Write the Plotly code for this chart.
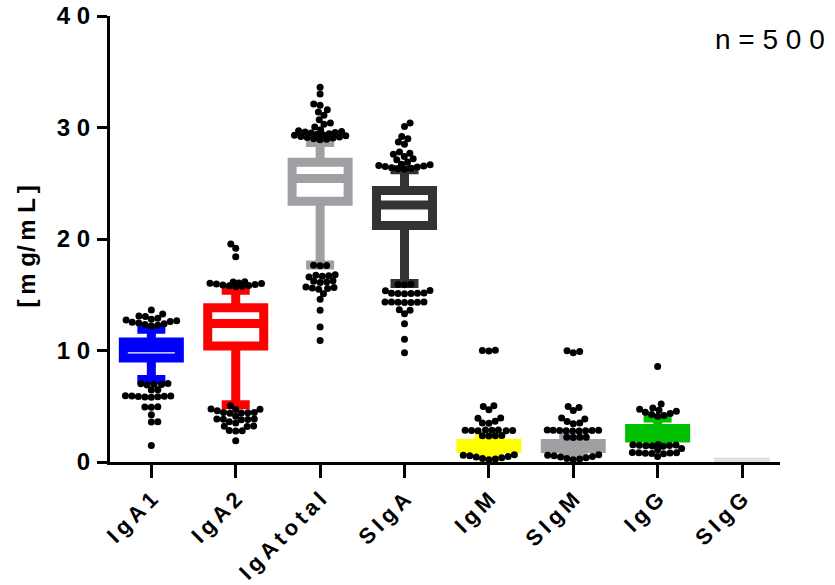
import math
import plotly.graph_objects as go

# ---------------- data ----------------
categories = ["IgA1", "IgA2", "IgA total", "SIgA", "IgM", "SIgM", "IgG", "SIgG"]
colors = ["#0000ff", "#ff0000", "#a0a0a4", "#333333", "#ffff00", "#a0a0a4", "#00c000", "#e0e0e0"]

q1 = [9.32, 10.40, 23.39, 21.21, 1.21, 1.21, 2.16, 0.0]
median = [10.25, 12.43, 25.42, 23.05, 1.45, 1.45, 2.60, 0.0]
q3 = [10.76, 13.84, 26.88, 24.34, 1.66, 1.66, 3.00, 0.0]
whisker_low = [7.40, 5.13, 17.67, 16.01, 0.75, 0.75, 1.65, 0.0]
whisker_high = [11.91, 15.40, 28.65, 26.20, 2.20, 2.20, 3.95, 0.0]

out_IgA1 = [13.64, 13.28, 13.1, 13.04, 12.9,
            12.2, 12.27, 12.33, 12.4, 12.47, 12.53, 12.6, 12.67, 12.73, 12.8,
            7.05, 7.02, 6.98, 6.95, 6.9, 6.47, 6.45,
            5.95, 5.93, 5.91, 5.89, 5.87, 5.85, 5.83, 5.81,
            4.93, 4.9, 4.95, 4.24, 3.6, 3.58, 1.49]
out_IgA2 = [19.55, 19.17, 18.41, 16.17, 16.15,
            15.72, 15.76, 15.8, 15.84, 15.88, 15.92, 15.96, 16.0, 16.03, 16.05,
            5.04, 4.75, 4.73, 4.7, 4.6, 4.45, 4.44, 4.42, 4.4, 4.38, 4.1, 3.86, 3.85, 3.83, 3.82,
            3.8, 3.6, 3.5, 3.22, 3.2, 3.18, 2.82, 2.8, 2.78, 1.91]
out_IgAtotal = [33.6, 33.0, 32.1, 32.0, 31.6, 31.4, 31.1, 30.7, 30.4, 30.3, 30.05, 29.8,
                29.7, 29.65, 29.6, 29.55, 29.5, 29.45, 29.4, 29.35, 29.3, 29.25, 29.2, 29.15,
                29.1, 29.05, 29.0, 28.95, 28.9,
                17.6, 17.62, 17.64, 16.8, 16.75, 16.7, 16.65, 16.6, 16.25, 16.2, 16.15, 16.1,
                15.7, 15.65, 15.6, 15.55, 15.5, 15.1, 14.6, 13.6, 12.1, 10.9]
out_SIgA = [30.4, 30.1, 29.2, 29.0, 28.7, 28.5, 27.8, 27.7, 27.6, 27.4, 27.2, 27.1, 26.9,
            26.7, 26.65, 26.6, 26.55, 26.5, 26.45, 26.4, 26.35, 26.3, 26.26,
            15.9, 15.92, 15.94, 15.35, 15.37, 15.1, 15.11, 15.12, 15.13, 15.14, 15.15,
            14.3, 14.31, 14.32, 14.33, 14.34, 14.35, 14.36, 13.65, 13.6, 13.3, 12.4, 11.0, 9.8]
out_IgM = [10.02, 10.0, 9.96, 5.05, 4.98, 4.68, 3.95, 3.93, 3.65, 3.5, 3.48,
           2.8, 2.81, 2.82, 2.83, 2.84, 2.85, 2.86, 2.87,
           2.34, 2.35, 2.36, 2.37,
           0.2, 0.26, 0.32, 0.38, 0.44, 0.5, 0.55, 0.6, 0.65]
out_SIgM = [9.97, 9.9, 9.8, 4.98, 4.89, 4.62, 3.94, 3.85, 3.64, 3.49, 3.43,
            2.78, 2.79, 2.8, 2.81, 2.82, 2.83, 2.84, 2.85, 2.86,
            2.2, 2.21, 2.22, 2.23,
            0.2, 0.26, 0.32, 0.38, 0.44, 0.5, 0.55, 0.6, 0.65]
out_IgG = [8.56, 5.2,
           4.08, 4.17, 4.27, 4.36, 4.46, 4.55, 4.65, 4.74, 4.84,
           1.42, 1.44, 1.46, 1.48, 1.5, 1.52, 1.54, 1.56,
           1.1, 1.2,
           0.74, 0.76, 0.78, 0.8, 0.82, 0.84, 0.86, 0.5]
out_SIgG = []
outliers = [out_IgA1, out_IgA2, out_IgAtotal, out_SIgA, out_IgM, out_SIgM, out_IgG, out_SIgG]

y_ticks = [0, 10, 20, 30, 40]
y_title = "[\u2009m g/\u2009m L\u2009]"
n_label = "n=500"

# ---------------- layout constants ----------------
W, H = 835, 585
ML, MR, MT, MB = 110, 55, 16, 123
XR = [-0.49, 7.45]
YR = [0, 40]
ppx = (W - ML - MR) / (XR[1] - XR[0])
ppy = (H - MT - MB) / (YR[1] - YR[0])
DOT = 7
SEP = 6.5
CAP = 26.0
BOXW_PX = 56


def spaced(s, sep=" "):
    return sep.join(ch for ch in s if ch != " ")


def swarm(values):
    """Beeswarm (px offsets), ascending placement, limited half-width with overlap fill."""
    order = sorted(range(len(values)), key=lambda k: values[k])
    placed = []
    offs = [0.0] * len(values)
    flip = False

    def mind(c, y):
        if not placed:
            return 1e9
        return min(math.hypot(c - xj, y - yj) for (xj, yj) in placed)

    for k in order:
        y = values[k] * ppy
        cands = [0.0]
        for (xj, yj) in placed:
            dy = y - yj
            if abs(dy) < SEP:
                dx = math.sqrt(SEP * SEP - dy * dy)
                cands += [xj + dx, xj - dx]
        good = [c for c in cands if abs(c) <= CAP + 1e-6 and mind(c, y) >= SEP - 1e-6]
        if good:
            good.sort(key=lambda c: (round(abs(c), 4), c if flip else -c))
            c = good[0]
        else:
            grid = [CAP * (g / 52.0) for g in range(-52, 53)]
            grid.sort(key=lambda c: (-round(mind(c, y), 3), abs(c), c if flip else -c))
            c = grid[0]
        if abs(c) > 1e-6:
            flip = not flip
        placed.append((c, y))
        offs[k] = c
    return offs


fig = go.Figure()

for i, cat in enumerate(categories):
    fig.add_trace(go.Box(
        x=[i], q1=[q1[i]], median=[median[i]], q3=[q3[i]],
        lowerfence=[whisker_low[i]], upperfence=[whisker_high[i]],
        width=BOXW_PX / ppx, whiskerwidth=0.5,
        fillcolor="white", line=dict(color=colors[i], width=9),
        boxpoints=False, name=cat, showlegend=False, hoverinfo="skip",
    ))

for i, vals in enumerate(outliers):
    if not vals:
        continue
    offs = swarm(vals)
    fig.add_trace(go.Scatter(
        x=[i + o / ppx for o in offs], y=vals, mode="markers",
        marker=dict(color="black", size=DOT, line=dict(width=0)),
        showlegend=False, hoverinfo="skip", cliponaxis=False,
    ))

FAM = "Arial, Liberation Sans, sans-serif"
font_bold = dict(family=FAM, color="black", weight="bold")

fig.update_layout(
    width=W, height=H,
    margin=dict(l=ML, r=MR, t=MT, b=MB),
    plot_bgcolor="white", paper_bgcolor="white",
    showlegend=False,
    xaxis=dict(
        range=XR, tickmode="array", tickvals=list(range(len(categories))),
        ticktext=[spaced(c, "\u2009") for c in categories], tickangle=-45,
        ticks="outside", ticklen=13, tickwidth=3, tickcolor="black",
        showline=True, linewidth=3, linecolor="black", showgrid=False, zeroline=False,
        tickfont=dict(size=22, **font_bold), automargin=False,
    ),
    yaxis=dict(
        range=YR, tickmode="array", tickvals=y_ticks, ticktext=[spaced(str(t)) for t in y_ticks],
        ticks="outside", ticklen=10, tickwidth=3, tickcolor="black",
        showline=True, linewidth=3, linecolor="black", showgrid=False, zeroline=False,
        tickfont=dict(size=24, **font_bold), automargin=False, ticklabelstandoff=2,
    ),
    annotations=[
        dict(text=spaced(n_label), xref="paper", yref="paper", x=1, xshift=827 - (W - MR),
             y=0.948, xanchor="right", yanchor="middle", showarrow=False,
             font=dict(family=FAM, size=28, color="black")),
        dict(text=y_title, xref="paper", yref="paper", x=0, xshift=27 - ML, y=0.483,
             xanchor="center", yanchor="middle", textangle=-90, showarrow=False,
             font=dict(size=24, **font_bold)),
    ],
)

fig.write_html("out.html", config={"displayModeBar": False},
               post_script="document.body.style.margin='0px';")
